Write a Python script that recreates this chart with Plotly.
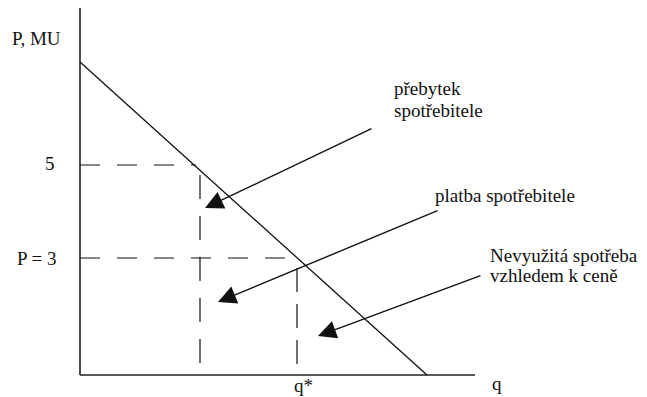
import plotly.graph_objects as go

# sketch units: 1 unit = 10 px, origin where the two axes meet
AXIS_Q_END = 39.5
AXIS_P_END = 36.7

demand_q = [0.0, 34.7]
demand_p = [31.3, 0.0]

p_high = 21.0      # "5"
p_low = 11.7       # "P = 3"
q_high = 11.6      # demand at P=5 (end of horizontal dash)
q_high_v = 12.0    # vertical dashed line under P=5
q_star = 21.7

# arrows: (tail_q, tail_p, tip_q, tip_p)
arrows = [
    (29.3, 24.7, 12.5, 16.7),
    (35.9, 16.5, 13.8, 7.3),
    (40.2, 10.0, 23.8, 3.9),
]

# labels: (text, q, p, anchor)
labels = [
    ("P, MU", -4.4, 33.7, "center"),
    ("5", -3.0, 21.2, "center"),
    ("P = 3", -4.3, 11.7, "center"),
    ("q*", 22.3, -1.0, "center"),
    ("q", 41.7, -0.8, "center"),
    ("přebytek", 31.2, 28.7, "left"),
    ("spotřebitele", 31.2, 26.5, "left"),
    ("platba spotřebitele", 35.3, 18.0, "left"),
    ("Nevyužitá spotřeba", 40.8, 12.0, "left"),
    ("vzhledem k ceně", 40.8, 10.0, "left"),
]

FONT = dict(family="Liberation Serif", size=19, color="#111111")
DASH = "20px,17px"

fig = go.Figure()


def seg(q, p, width=1.2, dash="solid", color="#111111"):
    fig.add_trace(go.Scatter(
        x=q, y=p, mode="lines", showlegend=False, hoverinfo="skip",
        line=dict(color=color, width=width, dash=dash),
    ))


# axes
seg([0, 0], [0, AXIS_P_END], width=1.6, color="#222222")
seg([0, AXIS_Q_END], [0, 0], width=1.6, color="#222222")

# demand
seg(demand_q, demand_p, width=1.3)

# dashed guides
seg([0, q_high], [p_high, p_high], dash=DASH)
seg([0, q_star + 0.1], [p_low, p_low], dash=DASH)
seg([q_high_v, q_high_v], [p_high - 1.0, 1.2], dash="24px,17px")
seg([q_star, q_star], [p_low - 1.0, 0], dash="24px,12px")

for tq, tp, hq, hp in arrows:
    fig.add_annotation(
        x=hq, y=hp, ax=tq, ay=tp, xref="x", yref="y", axref="x", ayref="y",
        text="", showarrow=True, arrowhead=2, arrowsize=2.6, arrowwidth=1.4,
        arrowcolor="#111111",
    )

for txt, q, p, anchor in labels:
    fig.add_annotation(
        x=q, y=p, xref="x", yref="y", text=txt, showarrow=False,
        xanchor=anchor, yanchor="middle", font=FONT,
    )

# the page body adds an 8 px margin, so the ranges are shifted by 0.8 units
fig.update_layout(
    width=647, height=397,
    margin=dict(l=0, r=0, t=0, b=0),
    paper_bgcolor="white", plot_bgcolor="white",
    xaxis=dict(range=[-7.2, 57.5], visible=False, fixedrange=True),
    yaxis=dict(range=[-3.0, 36.7], visible=False, fixedrange=True),
    showlegend=False,
)

fig.write_html("out.html")
